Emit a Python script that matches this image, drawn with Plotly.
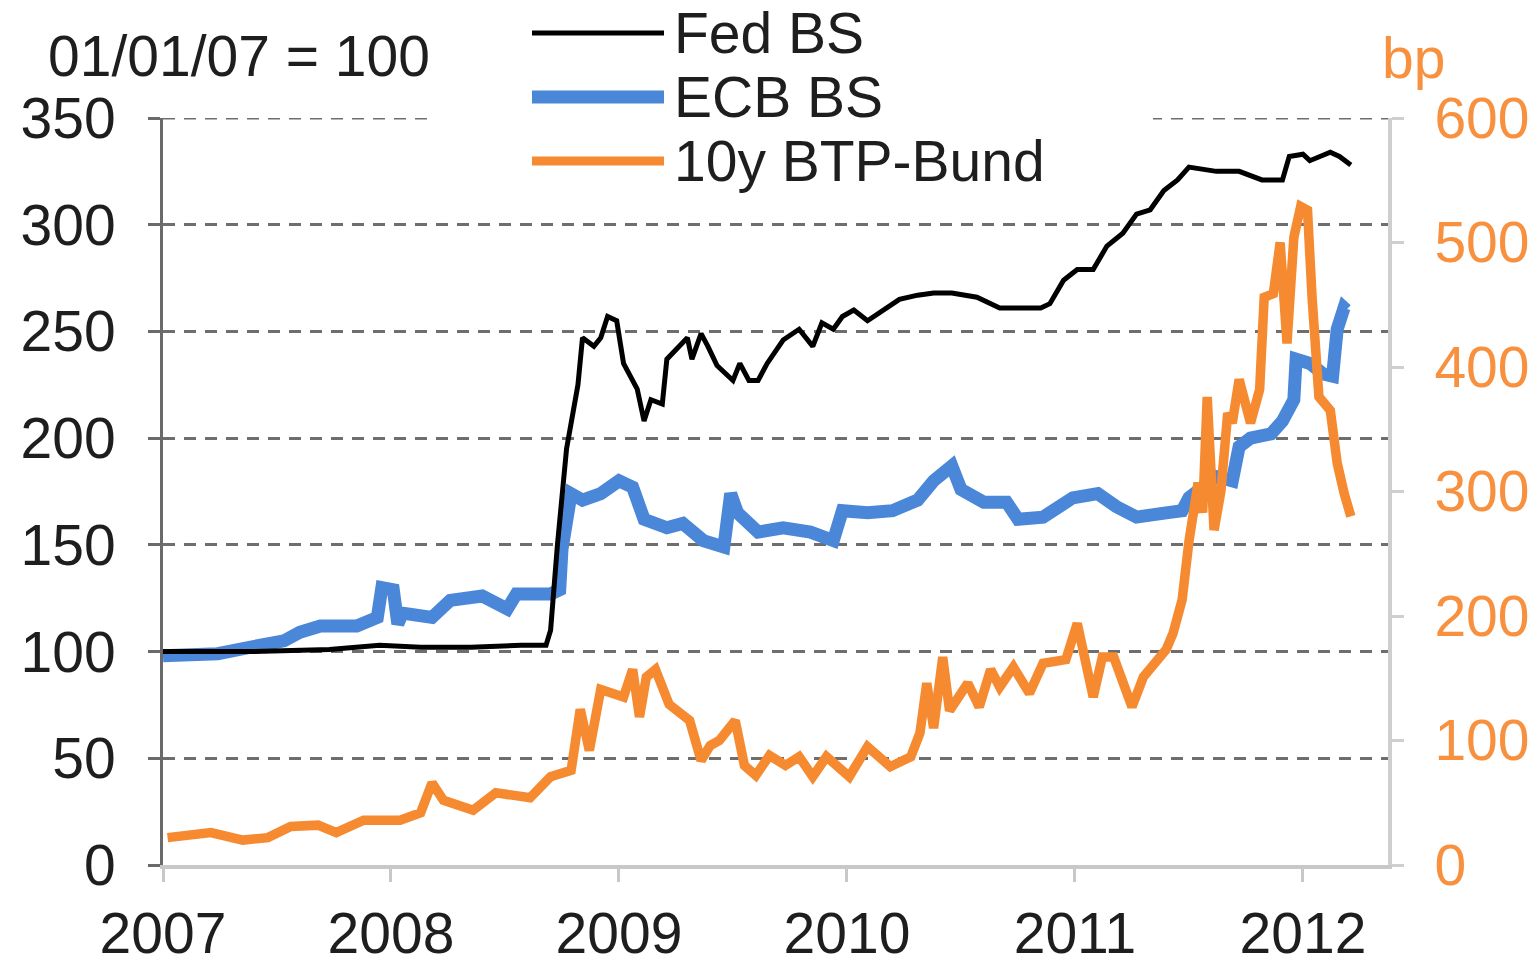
import plotly.graph_objects as go

# ---------------- data (decimal years) ----------------
fed_x = [2007.00, 2007.38, 2007.73, 2007.95, 2008.13, 2008.35, 2008.57, 2008.68, 2008.70, 2008.73,
         2008.77, 2008.82, 2008.84, 2008.89, 2008.92, 2008.95, 2008.99, 2009.02, 2009.08, 2009.11,
         2009.14, 2009.19, 2009.21, 2009.30, 2009.32, 2009.36, 2009.39, 2009.43, 2009.50, 2009.53,
         2009.57, 2009.61, 2009.65, 2009.72, 2009.79, 2009.85, 2009.89, 2009.94, 2009.98, 2010.03,
         2010.09, 2010.16, 2010.23, 2010.31, 2010.38, 2010.46, 2010.57, 2010.67, 2010.85, 2010.89,
         2010.95, 2011.01, 2011.08, 2011.14, 2011.21, 2011.27, 2011.33, 2011.39, 2011.45, 2011.50,
         2011.62, 2011.72, 2011.82, 2011.91, 2011.94, 2012.00, 2012.03, 2012.12, 2012.16, 2012.21]
fed_bs = [100, 100, 101, 103, 102, 102, 103, 103, 110, 150,
          195, 225, 247, 243, 247, 257, 255, 235, 223, 208,
          218, 216, 237, 247, 237, 249, 243, 234, 227, 235,
          227, 227, 235, 246, 251, 243, 254, 251, 257, 260,
          255, 260, 265, 267, 268, 268, 266, 261, 261, 263,
          274, 279, 279, 290, 296, 305, 307, 316, 321, 327,
          325, 325, 321, 321, 332, 333, 330, 334, 332, 328]

ecb_x = [2007.00, 2007.24, 2007.38, 2007.53, 2007.60, 2007.69, 2007.76, 2007.85, 2007.94, 2007.96,
         2008.01, 2008.03, 2008.05, 2008.18, 2008.26, 2008.40, 2008.51, 2008.55, 2008.70, 2008.74,
         2008.75, 2008.79, 2008.84, 2008.92, 2009.00, 2009.06, 2009.11, 2009.21, 2009.28, 2009.37,
         2009.46, 2009.49, 2009.52, 2009.61, 2009.72, 2009.84, 2009.94, 2009.98, 2010.09, 2010.20,
         2010.31, 2010.38, 2010.46, 2010.50, 2010.60, 2010.70, 2010.75, 2010.86, 2010.99, 2011.10,
         2011.18, 2011.27, 2011.40, 2011.47, 2011.50, 2011.62, 2011.69, 2011.72, 2011.77, 2011.86,
         2011.91, 2011.96, 2011.97, 2012.03, 2012.09, 2012.13, 2012.15, 2012.18, 2012.19]
ecb_bs = [98, 99, 102, 105, 109, 112, 112, 112, 116, 130,
          129, 113, 118, 116, 124, 126, 120, 127, 127, 129,
          148, 174, 171, 174, 180, 177, 162, 158, 160, 152,
          149, 174, 165, 156, 158, 156, 152, 166, 165, 166,
          171, 180, 187, 176, 170, 170, 162, 163, 172, 174,
          168, 163, 165, 166, 172, 182, 180, 196, 200, 202,
          208, 218, 237, 235, 230, 229, 251, 261, 260]

btp_x = [2007.02, 2007.21, 2007.35, 2007.46, 2007.56, 2007.68, 2007.76, 2007.88, 2008.04, 2008.13,
         2008.18, 2008.23, 2008.36, 2008.46, 2008.61, 2008.70, 2008.79, 2008.83, 2008.87, 2008.92,
         2009.02, 2009.06, 2009.09, 2009.12, 2009.16, 2009.22, 2009.31, 2009.36, 2009.40, 2009.44,
         2009.51, 2009.55, 2009.60, 2009.66, 2009.73, 2009.79, 2009.85, 2009.91, 2010.01, 2010.09,
         2010.19, 2010.28, 2010.32, 2010.35, 2010.38, 2010.42, 2010.45, 2010.53, 2010.58, 2010.63,
         2010.67, 2010.73, 2010.80, 2010.86, 2010.96, 2011.01, 2011.08, 2011.12, 2011.17, 2011.25,
         2011.30, 2011.40, 2011.43, 2011.47, 2011.50, 2011.54, 2011.56, 2011.58, 2011.61, 2011.64,
         2011.67, 2011.69, 2011.72, 2011.77, 2011.81, 2011.83, 2011.87, 2011.90, 2011.93, 2011.96,
         2011.99, 2012.02, 2012.04, 2012.07, 2012.12, 2012.15, 2012.18, 2012.21]
btp_bund = [22, 26, 20, 22, 31, 32, 26, 36, 36, 42,
            66, 52, 44, 58, 54, 71, 76, 125, 92, 141,
            135, 157, 119, 151, 157, 129, 116, 84, 96, 100,
            116, 80, 72, 88, 80, 87, 71, 87, 71, 95,
            79, 87, 106, 146, 110, 167, 124, 146, 127, 157,
            143, 159, 138, 162, 165, 194, 135, 167, 167, 127,
            151, 173, 186, 213, 260, 307, 283, 376, 269, 300,
            363, 355, 390, 355, 382, 456, 459, 500, 419, 504,
            529, 526, 456, 376, 365, 323, 299, 280]

year_ticks = [2007, 2008, 2009, 2010, 2011, 2012]
year_labels = ["2007", "2008", "2009", "2010", "2011", "2012"]
left_ticks = [0, 50, 100, 150, 200, 250, 300, 350]
right_ticks = [0, 100, 200, 300, 400, 500, 600]

# ---------------- style ----------------
W, H = 1538, 957
L, R, T, B = 163, 1388, 118, 865
FONT = "Liberation Sans, Arial, sans-serif"
FS = 57
BLUE = "#4A87D8"
ORANGE = "#F58A31"
ORANGE_TXT = "#F7913F"
TXT = "#1e1e1e"
GRID = "#6e6e6e"


def px(x):
    return (x - L) / (R - L)


def py(y):
    return (B - y) / (B - T)


fig = go.Figure()
fig.add_trace(go.Scatter(x=btp_x, y=btp_bund, name="10y BTP-Bund", yaxis="y2", mode="lines",
                         line=dict(color=ORANGE, width=9.5), showlegend=False))
fig.add_trace(go.Scatter(x=ecb_x, y=ecb_bs, name="ECB BS", mode="lines",
                         line=dict(color=BLUE, width=13), showlegend=False))
fig.add_trace(go.Scatter(x=fed_x, y=fed_bs, name="Fed BS", mode="lines",
                         line=dict(color="#000000", width=5), showlegend=False))

fig.update_layout(
    width=W, height=H,
    margin=dict(l=L, r=W - R, t=T, b=H - B, pad=0),
    paper_bgcolor="white", plot_bgcolor="white",
    font=dict(family=FONT, size=FS, color=TXT),
    xaxis=dict(range=[2007, 2012.373], tickvals=year_ticks, ticktext=year_labels,
               showgrid=False, zeroline=False, showline=True, linecolor="#c8c8c8", linewidth=4,
               ticks="outside", ticklen=13, tickcolor="#c8c8c8", tickwidth=3,
               ticklabelstandoff=3, tickfont=dict(size=FS, color=TXT), automargin=False),
    yaxis=dict(range=[0, 350], tickvals=left_ticks, showgrid=True, gridcolor=GRID,
               gridwidth=3, griddash="12px,9px", zeroline=False, showline=True,
               linecolor="#6a6a6a", linewidth=3, ticks="outside", ticklen=12,
               tickcolor="#6a6a6a", tickwidth=3, ticklabelstandoff=21,
               tickfont=dict(size=FS, color=TXT), automargin=False),
    yaxis2=dict(range=[0, 600], tickvals=right_ticks, overlaying="y", side="right",
                showgrid=False, zeroline=False, showline=True, linecolor="#cfcfcf", linewidth=4,
                ticks="outside", ticklen=12, tickcolor="#cfcfcf", tickwidth=3,
                ticklabelstandoff=19, tickfont=dict(size=FS, color=ORANGE_TXT), automargin=False),
    showlegend=False,
)

shapes = []
# top gridline (at the edge of the range, plotly does not draw it)
shapes.append(dict(type="line", xref="paper", yref="y", x0=0, x1=1, y0=350, y1=350,
                   line=dict(color=GRID, width=3, dash="12px,9px"), layer="below"))
# legend background (covers the top gridline)
shapes.append(dict(type="rect", xref="paper", yref="paper", x0=px(436), x1=px(1153),
                   y0=py(200), y1=py(0), fillcolor="white", line=dict(width=0), layer="above"))
legend_items = [("Fed BS", "#000000", 5, 33), ("ECB BS", BLUE, 13, 97), ("10y BTP-Bund", ORANGE, 9, 161)]
annotations = []
for name, col, w, yy in legend_items:
    shapes.append(dict(type="line", xref="paper", yref="paper", x0=px(532), x1=px(664),
                       y0=py(yy), y1=py(yy), line=dict(color=col, width=w), layer="above"))
    annotations.append(dict(text=name, xref="paper", yref="paper", x=px(672), y=py(yy),
                            xanchor="left", yanchor="middle", showarrow=False,
                            font=dict(size=FS, color=TXT, family=FONT)))

annotations.append(dict(text="01/01/07 = 100", xref="paper", yref="paper", x=px(46), y=py(56),
                        xanchor="left", yanchor="middle", showarrow=False,
                        font=dict(size=FS, color=TXT, family=FONT)))
annotations.append(dict(text="bp", xref="paper", yref="paper", x=px(1380), y=py(58),
                        xanchor="left", yanchor="middle", showarrow=False,
                        font=dict(size=FS, color=ORANGE_TXT, family=FONT)))

fig.update_layout(shapes=shapes, annotations=annotations)
fig.write_html("out.html", config={"displayModeBar": False},
               post_script="document.body.style.margin='0';document.body.style.overflow='hidden';")
